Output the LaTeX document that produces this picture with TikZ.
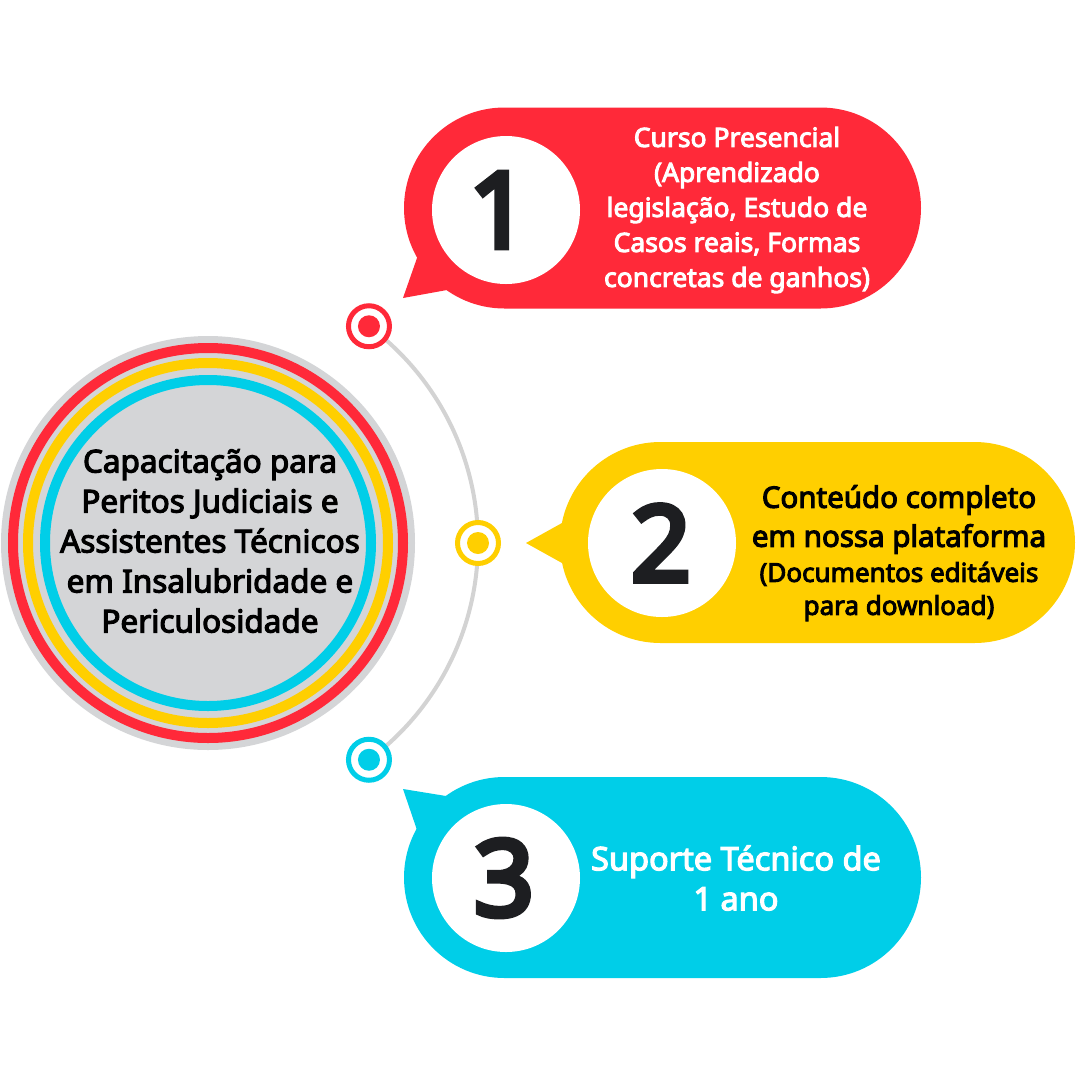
\documentclass[tikz,border=0pt]{standalone}
\usepackage{fontspec}
\setmainfont{Noto Sans}[AutoFakeBold=3.6]
\newfontfamily\numfont{Noto Sans}[FakeBold=5.5]
\definecolor{redc}{HTML}{FF2939}
\definecolor{yelc}{HTML}{FFCF00}
\definecolor{cyac}{HTML}{00CEE8}
\definecolor{coregray}{HTML}{D4D5D7}
\definecolor{arcgray}{HTML}{D3D3D3}
\definecolor{numblack}{HTML}{1D1E21}
\begin{document}
\begin{tikzpicture}[x=1pt,y=-1pt,
  ringline/.style={draw=#1, line width=10pt},
  dotnode/.style={circle, draw=#1, fill=white, line width=5pt, minimum size=41pt, inner sep=0pt},
  bubble/.style={rectangle, fill=#1, rounded corners=100.5pt, inner sep=0pt, minimum height=201pt},
  numcircle/.style={circle, fill=white, minimum size=148pt, inner sep=0pt},
  numtext/.style={inner sep=0pt, text=numblack, font=\numfont\fontsize{105}{105}\selectfont},
  txt/.style={align=center, inner sep=0pt, font=\bfseries},
  arcline/.style={draw=arcgray, line width=4pt}
]
\useasboundingbox (0,0) rectangle (1080,1080);
\fill[white] (0,0) rectangle (1080,1080);

% central circle
\coordinate (c) at (208,543);
\fill[coregray] (c) circle[radius=207];
\draw[ringline=redc] (c) circle[radius=195];
\draw[ringline=yelc] (c) circle[radius=180];
\draw[ringline=cyac] (c) circle[radius=163];
\node[txt, text=black, font=\bfseries\fontsize{31.5}{40}\selectfont] (core) at (210,541)
  {Capacitação para\\Peritos Judiciais e\\Assistentes Técnicos\\em Insalubridade e\\Periculosidade};

% arc and dots
\coordinate (p1) at ([shift={(-53.4:270)}]c);
\coordinate (p2) at ([shift={(0:270)}]c);
\coordinate (p3) at ([shift={(53.4:270)}]c);
\draw[arcline] (p1) arc[start angle=-53.4, end angle=53.4, radius=270];
\node[dotnode=redc] (d1) at (p1) {};
\node[dotnode=yelc] (d2) at (p2) {};
\node[dotnode=cyac] (d3) at (p3) {};
\fill[redc] (d1.center) circle[radius=11];
\fill[yelc] (d2.center) circle[radius=11];
\fill[cyac] (d3.center) circle[radius=11];

% bubble 1
\fill[redc] (403,298) -- (417,258) -- (440,250) -- (447,290) -- cycle;
\node[bubble=redc, minimum width=517pt] (b1) at (662.5,208) {};
\node[numcircle] (w1) at (506,210) {};
\node[numtext, xshift=-7pt] (n1) at (w1.center) {1};
\node[txt, text=white, font=\bfseries\fontsize{26.5}{35}\selectfont] (t1) at (737,210)
  {Curso Presencial\\(Aprendizado\\legislação, Estudo de\\Casos reais, Formas\\concretas de ganhos)};

% bubble 2
\fill[yelc] (526,543) -- (562,523) -- (580,543) -- (562,563) -- cycle;
\node[bubble=yelc, minimum width=515pt] (b2) at (817.5,542.5) {};
\node[numcircle] (w2) at (662,543) {};
\node[numtext, xshift=-1pt] (n2) at (w2.center) {2};
\node[txt, text=black, font=\bfseries\fontsize{29.5}{39}\selectfont] (t2a) at (899,519.5)
  {Conteúdo completo\\em nossa plataforma};
\node[txt, text=black, font=\bfseries\fontsize{26}{33}\selectfont] (t2b) at (899,591.5)
  {(Documentos editáveis\\para download)};

% bubble 3
\fill[cyac] (403,789) -- (446,796) -- (440,806) -- (417,830) -- cycle;
\node[bubble=cyac, minimum width=517pt] (b3) at (662.5,877.5) {};
\node[numcircle] (w3) at (506,878) {};
\node[numtext, xshift=-2pt] (n3) at (w3.center) {3};
\node[txt, text=white, font=\bfseries\fontsize{32.5}{40}\selectfont] (t3) at (736,878)
  {Suporte Técnico de\\1 ano};
\end{tikzpicture}
\end{document}
